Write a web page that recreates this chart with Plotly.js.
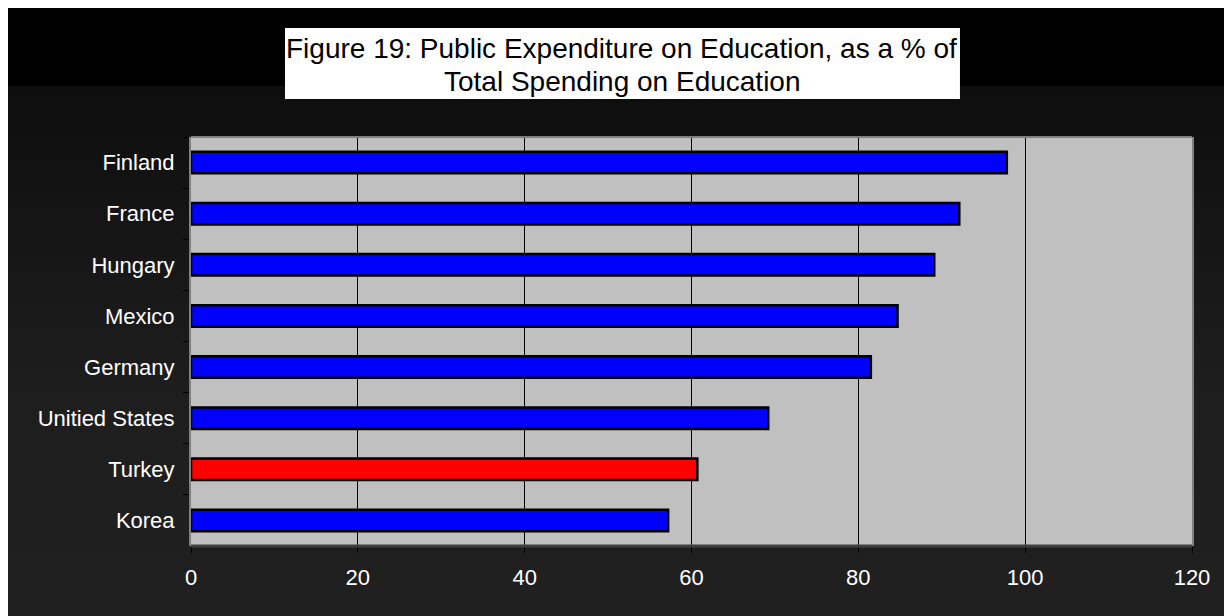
<!DOCTYPE html>
<html>
<head>
<meta charset="utf-8">
<script src="https://cdn.plot.ly/plotly-3.0.1.min.js"></script>
<style>
  html, body { margin: 0; padding: 0; background: #ffffff; }
  #chart {
    width: 1224px; height: 616px;
    background-image:
      linear-gradient(to right, #ffffff 0px, #ffffff 8px, rgba(255,255,255,0) 8px),
      linear-gradient(to bottom, #ffffff 0px, #ffffff 8px, #000000 8px, #000000 86px, #0e0e0e 86px, #1e1e1e 400px, #202020 616px);
  }
</style>
</head>
<body>
<div id="chart"></div>
<script>
// ---- data ----
const countries = ['Finland', 'France', 'Hungary', 'Mexico', 'Germany', 'Unitied States', 'Turkey', 'Korea'];
const publicShare = [97.8, 92.1, 89.1, 84.7, 81.5, 69.2, 60.7, 57.2];
const highlighted = 'Turkey';
const xTickValues = [0, 20, 40, 60, 80, 100, 120];
const titleLine1 = 'Figure 19: Public Expenditure on Education, as a % of';
const titleLine2 = 'Total Spending on Education';

const barColors = countries.map(c => c === highlighted ? '#ff0000' : '#0000ff');

const trace = {
  type: 'bar',
  orientation: 'h',
  y: countries,
  x: publicShare,
  marker: { color: barColors, line: { color: '#000000', width: 2.5 } },
  hoverinfo: 'x+y'
};

const font = 'Arial, "Liberation Sans", sans-serif';

const layout = {
  width: 1224, height: 616,
  margin: { l: 191, r: 32, t: 137, b: 70, pad: 0 },
  paper_bgcolor: 'rgba(0,0,0,0)',
  plot_bgcolor: '#c0c0c0',
  showlegend: false,
  bargap: 0.58,
  font: { family: font, color: '#ffffff', size: 22 },
  xaxis: {
    range: [0, 120],
    tickvals: xTickValues,
    ticktext: xTickValues.map(String),
    showgrid: true, gridcolor: '#000000', gridwidth: 1,
    zeroline: false, showline: false,
    ticks: 'outside', ticklen: 6, tickwidth: 1, tickcolor: '#000000',
    tickfont: { family: font, size: 22, color: '#ffffff' },
    ticklabelstandoff: 6,
    fixedrange: true
  },
  yaxis: {
    type: 'category',
    autorange: 'reversed',
    showgrid: false, zeroline: false,
    showline: true, linecolor: '#808080', linewidth: 2, mirror: true,
    ticks: 'outside', tickson: 'boundaries', ticklen: 6, tickwidth: 1, tickcolor: '#000000',
    tickfont: { family: font, size: 22, color: '#ffffff' },
    ticklabelstandoff: 10,
    fixedrange: true
  },
  shapes: [
    { type: 'line', xref: 'paper', yref: 'paper', x0: 0, x1: 1, y0: 1, y1: 1,
      line: { color: '#808080', width: 2 } },
    { type: 'line', xref: 'paper', yref: 'paper', x0: 0, x1: 1, y0: 0, y1: 0,
      line: { color: '#404040', width: 3 } },
    { type: 'rect', xref: 'paper', yref: 'paper', x0: 0.0939, x1: 0.7682, y0: 1.0929, y1: 1.2665,
      fillcolor: '#ffffff', line: { width: 0 }, layer: 'above' }
  ],
  annotations: [
    { xref: 'paper', yref: 'paper', x: 0.4296, y: 1.2176, xanchor: 'center', yanchor: 'middle',
      text: titleLine1, showarrow: false, font: { family: font, size: 28, color: '#000000' } },
    { xref: 'paper', yref: 'paper', x: 0.4306, y: 1.1369, xanchor: 'center', yanchor: 'middle',
      text: titleLine2, showarrow: false, font: { family: font, size: 28, color: '#000000' } }
  ]
};

Plotly.newPlot('chart', [trace], layout, { displayModeBar: false, staticPlot: true });
</script>
</body>
</html>
